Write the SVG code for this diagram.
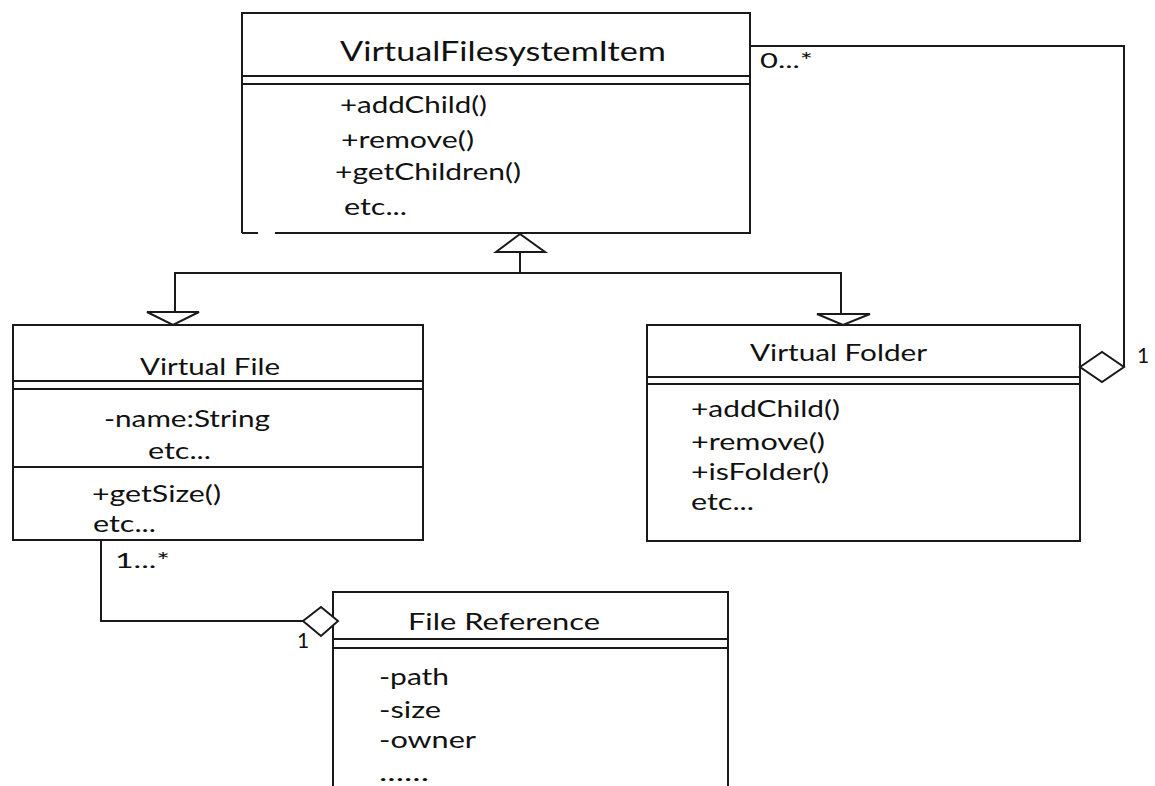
<svg xmlns="http://www.w3.org/2000/svg" width="1155" height="786" viewBox="0 0 1155 786">
<style>
.box{fill:#fff;stroke:#1a1a1a;stroke-width:2}
.ln{stroke:#1a1a1a;stroke-width:2;fill:none}
.t{font-family:Lato,"Liberation Sans",sans-serif;fill:#111;font-size:24px}
.ttl{font-family:Lato,"Liberation Sans",sans-serif;fill:#111;font-size:26px}
.cn{font-family:Lato,"Liberation Sans",sans-serif;fill:#111;font-size:23px}
.m{font-family:Lato,"Liberation Sans",sans-serif;fill:#111;font-size:21px}
.hd{fill:#fff;stroke:#1a1a1a;stroke-width:2;stroke-linejoin:miter}
</style>
<rect width="1155" height="786" fill="#fff"/>
<g id="VirtualFilesystemItem">
<path class="ln" d="M242,233 V13 H750 V233 H275 M258,233 H242"/>
<line class="ln" x1="242" y1="76" x2="750" y2="76"/>
<line class="ln" x1="242" y1="84" x2="750" y2="84"/>
<text class="ttl" x="340" y="61" textLength="326" lengthAdjust="spacingAndGlyphs">VirtualFilesystemItem</text>
<text class="t" x="340" y="113" textLength="147" lengthAdjust="spacingAndGlyphs">+addChild()</text>
<text class="t" x="341" y="148" textLength="133" lengthAdjust="spacingAndGlyphs">+remove()</text>
<text class="t" x="335" y="180" textLength="186" lengthAdjust="spacingAndGlyphs">+getChildren()</text>
<text class="t" x="344" y="215" textLength="63" lengthAdjust="spacingAndGlyphs">etc...</text>
</g>
<g id="VirtualFile">
<rect class="box" x="13" y="325" width="410" height="215"/>
<line class="ln" x1="13" y1="381" x2="423" y2="381"/>
<line class="ln" x1="13" y1="389" x2="423" y2="389"/>
<line class="ln" x1="13" y1="467" x2="423" y2="467"/>
<text class="cn" x="140" y="375" textLength="140" lengthAdjust="spacingAndGlyphs">Virtual File</text>
<text class="t" x="104" y="427" textLength="166" lengthAdjust="spacingAndGlyphs">-name:String</text>
<text class="t" x="148" y="459" textLength="63" lengthAdjust="spacingAndGlyphs">etc...</text>
<text class="t" x="92" y="502" textLength="129" lengthAdjust="spacingAndGlyphs">+getSize()</text>
<text class="t" x="93" y="532" textLength="63" lengthAdjust="spacingAndGlyphs">etc...</text>
</g>
<g id="VirtualFolder">
<rect class="box" x="647" y="325" width="433" height="216"/>
<line class="ln" x1="647" y1="377" x2="1080" y2="377"/>
<line class="ln" x1="647" y1="384" x2="1080" y2="384"/>
<text class="cn" x="750" y="361" textLength="177" lengthAdjust="spacingAndGlyphs">Virtual Folder</text>
<text class="t" x="691" y="417" textLength="149" lengthAdjust="spacingAndGlyphs">+addChild()</text>
<text class="t" x="691" y="450" textLength="134" lengthAdjust="spacingAndGlyphs">+remove()</text>
<text class="t" x="691" y="480" textLength="138" lengthAdjust="spacingAndGlyphs">+isFolder()</text>
<text class="t" x="691" y="510" textLength="63" lengthAdjust="spacingAndGlyphs">etc...</text>
</g>
<g id="FileReference">
<rect class="box" x="333" y="592" width="395" height="220"/>
<line class="ln" x1="333" y1="639" x2="728" y2="639"/>
<line class="ln" x1="333" y1="648" x2="728" y2="648"/>
<text class="cn" x="408" y="630" textLength="192" lengthAdjust="spacingAndGlyphs">File Reference</text>
<text class="t" x="379" y="685" textLength="70" lengthAdjust="spacingAndGlyphs">-path</text>
<text class="t" x="379" y="718" textLength="62" lengthAdjust="spacingAndGlyphs">-size</text>
<text class="t" x="379" y="748" textLength="97" lengthAdjust="spacingAndGlyphs">-owner</text>
<text class="t" x="379" y="781" textLength="50" lengthAdjust="spacingAndGlyphs">......</text>
</g>
<g id="connectors">
<path class="ln" d="M175,312 V273 H841 V314"/>
<line class="ln" x1="520" y1="252" x2="520" y2="273"/>
<polygon class="hd" points="520,234 496,252 545,252"/>
<polygon class="hd" points="147,312 199,312 173,325"/>
<polygon class="hd" points="817,314 870,314 843,325"/>
<path class="ln" d="M750,46 H1124 V367"/>
<polygon class="hd" points="1080,367 1102,352 1124,367 1102,382"/>
<path class="ln" d="M101,540 V621 H303"/>
<polygon class="hd" points="303,621 321,607 338,621 321,636"/>
<text class="m" x="760" y="68" textLength="53" lengthAdjust="spacingAndGlyphs">0...*</text>
<text class="m" x="1137" y="363" font-size="23">1</text>
<text class="m" x="115" y="568" textLength="55" lengthAdjust="spacingAndGlyphs">1...*</text>
<text class="m" x="297" y="648" font-size="23">1</text>
</g>
</svg>
